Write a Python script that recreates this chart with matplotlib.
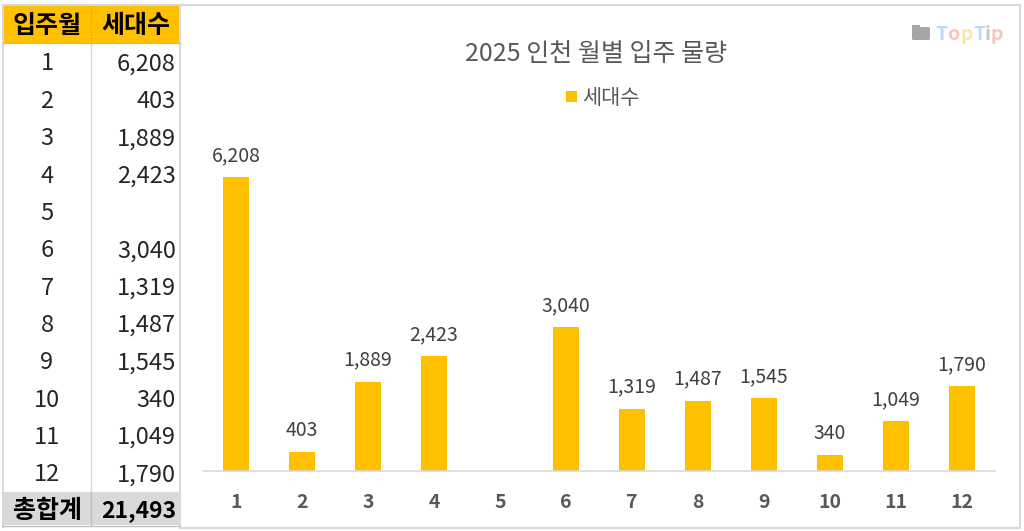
import matplotlib
matplotlib.use("Agg")
import matplotlib.pyplot as plt
from matplotlib.patches import Rectangle, FancyBboxPatch

plt.rcParams['font.family'] = ['Noto Sans CJK KR', 'DejaVu Sans']

months = ['1', '2', '3', '4', '5', '6', '7', '8', '9', '10', '11', '12']
units = [6208, 403, 1889, 2423, None, 3040, 1319, 1487, 1545, 340, 1049, 1790]
table_head = ['입주월', '세대수']
total_label = '총합계'
total_value = '21,493'
chart_title = '2025 인천 월별 입주 물량'
legend_label = '세대수'

W, H = 1024, 531
YELLOW = '#FFC000'
fig = plt.figure(figsize=(W / 100, H / 100), dpi=100)

# full figure axes in pixels, for table and frame
bg = fig.add_axes([0, 0, 1, 1])
bg.set_xlim(0, W)
bg.set_ylim(H, 0)
bg.axis('off')

# table fills
bg.add_patch(Rectangle((3, 5), 177, 38, fc=YELLOW, ec='none'))
bg.add_patch(Rectangle((3, 492), 177, 33, fc='#D9D9D9', ec='none'))

# table and chart frame lines
line_c = '#D9D9D9'
bg.plot([91, 91], [43, 492], color=line_c, lw=1)
bg.plot([91, 91], [492, 525], color='#BFBFBF', lw=1)
bg.plot([91, 91], [5, 43], color='#C8A030', lw=0.8, ls=':')
bg.plot([180, 180], [5, 527], color=line_c, lw=1.5)
bg.plot([3, 3], [5, 527], color=line_c, lw=1.5)
bg.plot([3, 180], [43, 43], color='#D8B860', lw=0.8)
bg.plot([3, 180], [525.5, 525.5], color='#BFBFBF', lw=1)
bg.plot([180, 1020, 1020, 180], [5, 5, 528, 528], color=line_c, lw=1.5)
bg.plot([3, 180], [4.5, 4.5], color=line_c, lw=1.5)

for x, s in zip([47.5, 135.5], table_head):
    bg.text(x, 26, s, ha='center', va='center', fontsize=18, fontweight='bold', color='black')

for i, (m, u) in enumerate(zip(months, units)):
    y = 64 + i * 37.36
    bg.text(47, y, m, ha='center', va='center', fontsize=17, color='#262626')
    if u is not None:
        bg.text(176, y, f'{u:,}', ha='right', va='center', fontsize=17, color='#262626')

bg.text(47.5, 511, total_label, ha='center', va='center', fontsize=18, fontweight='bold', color='black')
bg.text(176, 511, total_value, ha='right', va='center', fontsize=16.5, fontweight='bold', color='black')

# chart
left, right, top, base = 203, 995, 100, 471
ax = fig.add_axes([left / W, 1 - base / H, (right - left) / W, (base - top) / H])
ax.patch.set_alpha(0)
ymax = 6208 * (base - top) / 294
xs = list(range(1, 13))
ax.bar(xs, [u if u is not None else 0 for u in units], width=0.4, color=YELLOW)
for x, u in zip(xs, units):
    if u is not None:
        ax.annotate(f'{u:,}', (x, u), xytext=(0, 11), textcoords='offset pixels',
                    ha='center', va='bottom', fontsize=14, color='#404040')
ax.set_xlim(0.5, 12.5)
ax.set_ylim(0, ymax)
ax.set_xticks(xs)
ax.set_xticklabels(months, fontsize=14, fontweight='bold', color='#595959')
ax.tick_params(axis='x', length=0, pad=16)
ax.set_yticks([])
for s in ['left', 'right', 'top']:
    ax.spines[s].set_visible(False)
ax.spines['bottom'].set_color('#D9D9D9')
ax.spines['bottom'].set_linewidth(1.2)

# title and legend
bg.text(596.5, 54, chart_title, ha='center', va='center', fontsize=18, color='#595959')
bg.add_patch(Rectangle((566, 91), 11, 11, fc=YELLOW, ec='none'))
bg.text(582, 97.5, legend_label, ha='left', va='center', fontsize=15, color='#595959')

# watermark
bg.add_patch(FancyBboxPatch((912, 27), 18, 13, boxstyle='round,pad=0,rounding_size=1.5', fc='#A6A6A6', ec='none'))
bg.add_patch(Rectangle((912, 24.5), 8, 3, fc='#A6A6A6', ec='none'))
for ch, x, c in zip('TopTip', [935, 947, 960, 973, 984.5, 990],
                    ['#BFD7F8', '#F9C4BC', '#FCE5A8', '#BFD7F8', '#C8C8C8', '#F9C4BC']):
    bg.text(x, 34, ch, ha='left', va='center', fontsize=14, fontweight='bold', color=c)

fig.savefig('out.png', dpi=100)
